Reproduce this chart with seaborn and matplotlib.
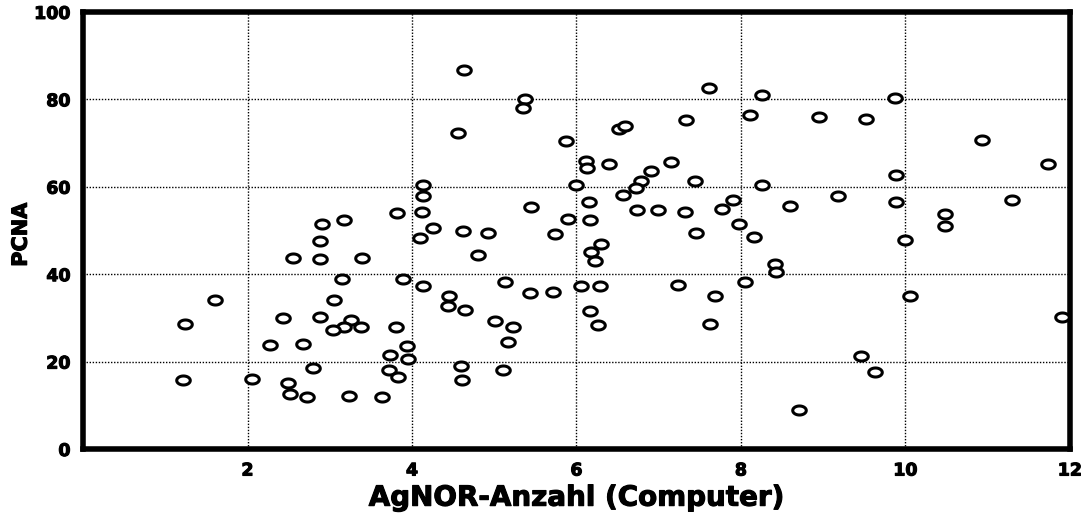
import numpy as np
import matplotlib
matplotlib.use("Agg")
import matplotlib.pyplot as plt
import matplotlib.patheffects as pe
from matplotlib.path import Path
import seaborn as sns

# AgNOR count (computer) vs PCNA
agnor = [4.63, 7.61, 5.38, 5.35, 8.26, 9.87, 4.56, 6.52, 6.59, 7.33,
         8.11, 8.95, 9.52, 10.93, 5.87, 11.73, 6.12, 6.13, 6.39, 7.15,
         6.91, 6.79, 6.72, 6.57, 7.44, 9.89, 8.26, 4.13, 4.13, 4.12,
         6.00, 6.15, 6.16, 5.45, 5.90, 5.74, 6.30, 6.18, 6.22, 6.74,
         6.99, 7.32, 7.45, 7.77, 7.90, 7.98, 8.16, 8.60, 9.18, 9.88,
         11.29, 10.48, 10.48, 9.99, 3.82, 3.17, 4.26, 4.10, 4.62, 4.93,
         3.39, 4.80, 2.55, 2.88, 2.88, 2.91, 3.15, 3.89, 4.13, 5.13,
         5.44, 5.71, 6.06, 6.29, 7.24, 7.68, 8.05, 8.41, 8.43, 10.05,
         4.45, 4.44, 4.65, 5.01, 5.23, 5.17, 6.16, 6.26, 7.62, 11.90,
         1.61, 3.05, 1.24, 2.43, 2.88, 3.26, 3.17, 3.04, 3.38, 3.80,
         2.27, 2.67, 3.94, 3.95, 3.73, 3.72, 3.83, 4.59, 4.61, 5.11,
         2.80, 1.21, 2.06, 2.49, 2.52, 2.72, 3.23, 3.63, 9.46, 9.63,
         8.71]
pcna = [86.6, 82.5, 80.0, 78.1, 80.9, 80.4, 72.2, 73.1, 73.8, 75.2,
        76.5, 75.9, 75.4, 70.6, 70.4, 65.3, 65.8, 64.2, 65.1, 65.6,
        63.7, 61.4, 59.8, 58.2, 61.2, 62.6, 60.5, 60.5, 57.8, 54.3,
        60.3, 56.6, 52.5, 55.3, 52.7, 49.3, 46.8, 45.0, 43.1, 54.6,
        54.6, 54.3, 49.5, 55.0, 56.9, 51.4, 48.6, 55.7, 57.8, 56.4,
        56.9, 53.7, 51.1, 47.9, 53.9, 52.3, 50.5, 48.2, 49.8, 49.5,
        43.6, 44.3, 43.6, 43.4, 47.5, 51.4, 38.8, 38.8, 37.4, 38.3,
        35.8, 36.0, 37.4, 37.2, 37.6, 34.9, 38.1, 42.4, 40.4, 35.1,
        35.1, 32.8, 31.9, 29.4, 27.8, 24.4, 31.5, 28.3, 28.7, 30.1,
        34.2, 34.2, 28.5, 29.9, 30.1, 29.6, 28.0, 27.3, 27.8, 27.8,
        23.9, 24.1, 23.5, 20.5, 21.4, 18.0, 16.4, 18.9, 15.9, 18.0,
        18.6, 15.9, 16.1, 15.2, 12.5, 11.8, 12.2, 11.8, 21.2, 17.7,
        9.0]

x_ticks = [2, 4, 6, 8, 10, 12]
y_ticks = [0, 20, 40, 60, 80, 100]

sns.set_style("white")
plt.rcParams["font.family"] = ["DejaVu Sans"]
plt.rcParams.update({"text.color": "black", "axes.labelcolor": "black",
                     "xtick.color": "black", "ytick.color": "black"})

heavy = [pe.withStroke(linewidth=0.8, foreground="black")]

# flat open ellipse marker
t = np.linspace(0, 2 * np.pi, 41)
ellipse = Path(np.column_stack([1.5 * np.cos(t), np.sin(t)]), closed=True)

fig = plt.figure(figsize=(10.84, 5.17), dpi=100)
ax = fig.add_axes([0.0766, 0.1315, 0.9104, 0.8455])

sns.scatterplot(x=agnor, y=pcna, ax=ax, marker=ellipse, s=95,
                color="white", edgecolor="black", linewidth=2.2, zorder=3)

ax.set_xlim(0, 12)
ax.set_ylim(0, 100)
ax.set_xticks(x_ticks)
ax.set_yticks(y_ticks)
ax.tick_params(length=0, labelsize=12.5, pad=9)
for lab in ax.get_xticklabels() + ax.get_yticklabels():
    lab.set_fontweight("bold")
    lab.set_path_effects(heavy)

ax.grid(True, color="black", linestyle=(0, (1, 1.2)), linewidth=1.0)
ax.set_axisbelow(True)
for s in ax.spines.values():
    s.set_visible(True)
    s.set_color("black")
    s.set_linewidth(4)

ax.set_xlabel("AgNOR-Anzahl (Computer)", fontsize=20, fontweight="bold",
              labelpad=3, path_effects=heavy)
ax.set_ylabel("PCNA", fontsize=15, fontweight="bold", path_effects=heavy)
ax.yaxis.set_label_coords(-0.053, 0.49)

fig.savefig("out.png", dpi=100)
